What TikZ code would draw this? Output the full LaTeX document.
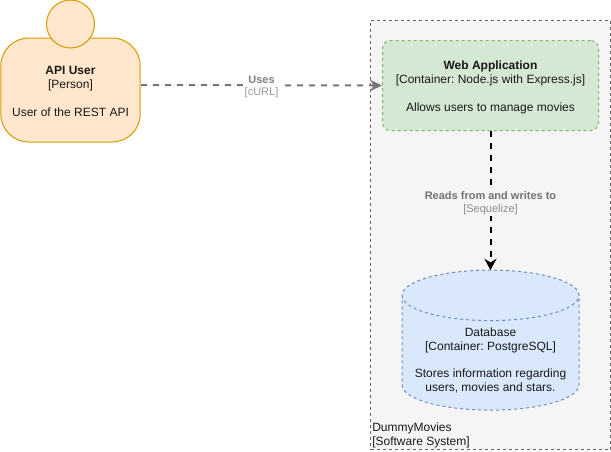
\documentclass[tikz,border=0pt]{standalone}
\usepackage{xcolor}
\usepackage{fontspec}
\setmainfont{Liberation Sans}
\frenchspacing
\usetikzlibrary{arrows.meta,shapes.geometric}

\definecolor{personfill}{HTML}{FFE6CC}
\definecolor{persondraw}{HTML}{D79B00}
\definecolor{webfill}{HTML}{D5E8D4}
\definecolor{webdraw}{HTML}{82B366}
\definecolor{dbfill}{HTML}{DAE8FC}
\definecolor{dbdraw}{HTML}{6C8EBF}
\definecolor{sysfill}{HTML}{F5F5F5}
\definecolor{sysdraw}{HTML}{666666}

% pushes a centred block of text down
\newcommand{\toppad}[1]{\rule{0pt}{#1}}

\tikzset{
    bodytext/.style={font=\fontsize{9}{10.4}\selectfont, text=black!90, align=center},
    linktext/.style={font=\fontsize{8.25}{9.9}\selectfont, fill=sysfill, align=center, inner sep=1pt},
    smalldash/.style={dash pattern=on 2.25pt off 2.25pt},
    linkdash/.style={line width=1.5pt, dash pattern=on 4.5pt off 4.5pt},
}

\begin{document}
\begin{tikzpicture}[x=0.75pt, y=-0.75pt]
    \useasboundingbox (0,0) rectangle (611,451);

    % Software system boundary
    \node[draw=sysdraw, fill=sysfill, smalldash, line width=0.75pt, minimum width=180pt, minimum height=322pt,
          inner sep=0pt] (system) at (490.5,235.25) {};
    \node[font=\fontsize{9}{10.4}\selectfont, text=black!90, align=left, anchor=south west, inner sep=0pt] (systemlabel) at (372,448.5)
        {DummyMovies\\{[}Software System{]}};

    % Person
    \node[draw=persondraw, fill=personfill, line width=0.75pt, rounded corners=21pt, minimum width=104.6pt,
          minimum height=78pt, inner sep=0pt, bodytext] (person) at (70.5,90)
        {\toppad{8.5pt}\textbf{API User}\\{[}Person{]}\\[10.4pt]User of the REST API};
    \node[draw=persondraw, fill=personfill, line width=0.75pt, circle, minimum size=36pt, inner sep=0pt] (head) at (70.5,24) {};

    % Web application
    \node[draw=webdraw, fill=webfill, smalldash, line width=0.75pt, rounded corners=6pt, minimum width=162pt,
          minimum height=67.5pt, inner sep=0pt, bodytext] (webapp) at (490.5,85.5)
        {\toppad{9.5pt}\textbf{Web Application}\\{[}Container: Node.js with Express.js{]}\\[10.4pt]Allows users to manage movies};

    % Database
    \node[draw=dbdraw, fill=dbfill, smalldash, line width=0.75pt, cylinder, shape border rotate=90, shape aspect=0.3,
          minimum width=132.75pt, minimum height=105pt, inner sep=0pt, outer sep=0pt] (database) at (490.5,353)
        {\phantom{Stores information regarding}};
    \node[bodytext, inner sep=0pt] (databasetext) at (490.5,360.5)
        {Database\\{[}Container: PostgreSQL{]}\\[10.4pt]Stores information regarding\\users, movies and stars.};

    % Uses link
    \coordinate (personport) at (141,85);
    \draw[-{Stealth[length=9pt, width=8.5pt]}, linkdash, draw=sysdraw!90] (personport) -- (webapp.west)
        node[pos=0.5, linktext, fill=white, text=black!50] (useslabel) {\toppad{8pt}\textbf{Uses}\\[-0.5pt]\textcolor{black!40}{[cURL]}};

    % Reads and writes link
    \draw[-{Stealth[length=8.5pt, width=9pt]}, linkdash, draw=black] (webapp.south) -- (database.top)
        node[pos=0.5, linktext, text=black!55] (readslabel) {\toppad{9.5pt}\textbf{Reads from and writes to}\\[-0.5pt]\textcolor{black!45}{[Sequelize]}};
\end{tikzpicture}
\end{document}
